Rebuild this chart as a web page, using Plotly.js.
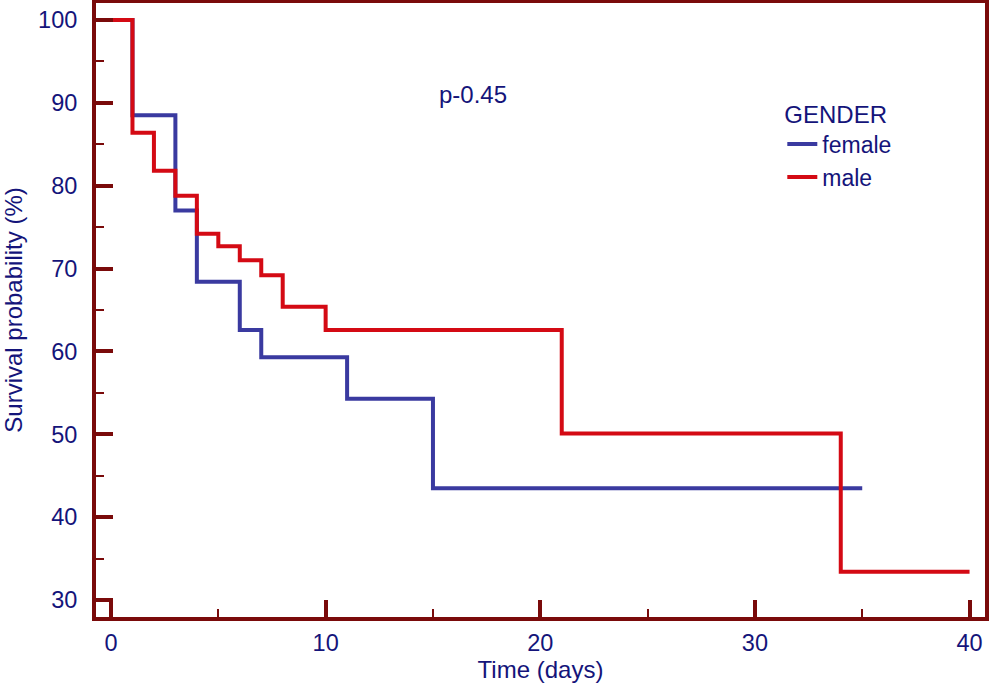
<!DOCTYPE html>
<html>
<head>
<meta charset="utf-8">
<script src="https://cdn.plot.ly/plotly-3.0.1.min.js"></script>
<style>
  html, body { margin: 0; padding: 0; background: #ffffff; }
  #plot { width: 989px; height: 690px; }
</style>
</head>
<body>
<div id="plot"></div>
<script>
// Kaplan-Meier steps
const femaleTime = [0, 1, 3, 4, 6, 7, 11, 15, 35];
const femaleSurv = [100, 88.5, 77.0, 68.4, 62.6, 59.3, 54.3, 43.5, 43.5];
const maleTime = [0, 1, 2, 3, 4, 5, 6, 7, 8, 10, 21, 34, 40];
const maleSurv = [100, 86.4, 81.8, 78.8, 74.2, 72.7, 71.0, 69.2, 65.4, 62.6, 50.1, 33.4, 33.4];
const xTicks = [0, 10, 20, 30, 40];
const yTicks = [30, 40, 50, 60, 70, 80, 90, 100];

const frameColor = '#7a0a0a';
const textColor = '#14147a';
const font = 'Liberation Sans, Arial, sans-serif';

let traces = [
    {
        x: femaleTime,
        y: femaleSurv,
        name: 'female',
        mode: 'lines',
        line: {shape: 'hv', color: '#3a3aa0', width: 4}
    },
    {
        x: maleTime,
        y: maleSurv,
        name: 'male',
        mode: 'lines',
        line: {shape: 'hv', color: '#d40a14', width: 4}
    }
];

let axisCommon = {
    showline: true,
    mirror: true,
    linecolor: frameColor,
    linewidth: 4,
    showgrid: false,
    zeroline: false,
    ticks: 'inside',
    ticklen: 17,
    tickwidth: 4,
    tickcolor: frameColor,
    tickfont: {family: font, size: 23.5, color: textColor}
};

let layout = {
    width: 989,
    height: 690,
    margin: {l: 96, r: 4, t: 3, b: 73},
    paper_bgcolor: '#ffffff',
    plot_bgcolor: '#ffffff',
    font: {family: font, color: textColor},
    showlegend: true,
    legend: {
        x: 0.772, y: 0.856, xanchor: 'left', yanchor: 'top',
        bgcolor: 'rgba(0,0,0,0)',
        font: {family: font, size: 23, color: textColor},
        title: {text: 'GENDER', font: {family: font, size: 24, color: textColor}}
    },
    xaxis: Object.assign({}, axisCommon, {
        range: [-0.699, 40.72],
        tickvals: xTicks,
        ticklabelstandoff: 2,
        minor: {ticks: 'inside', ticklen: 8, tickwidth: 2, tickcolor: frameColor, dtick: 5, tick0: 5, showgrid: false},
        title: {text: 'Time (days)', font: {family: font, size: 24, color: textColor}, standoff: 2}
    }),
    yaxis: Object.assign({}, axisCommon, {
        range: [27.95, 102.05],
        tickvals: yTicks,
        ticklabelstandoff: 10,
        minor: {ticks: 'inside', ticklen: 8, tickwidth: 2, tickcolor: frameColor, dtick: 5, tick0: 35, showgrid: false},
        title: {text: 'Survival probability (%)', font: {family: font, size: 24, color: textColor}, standoff: 10}
    }),
    annotations: [
        {x: 16.85, y: 91.0, xref: 'x', yref: 'y', text: 'p-0.45', showarrow: false,
         font: {family: font, size: 24, color: textColor}}
    ]
};

Plotly.newPlot('plot', traces, layout, {displayModeBar: false, staticPlot: true});
</script>
</body>
</html>
